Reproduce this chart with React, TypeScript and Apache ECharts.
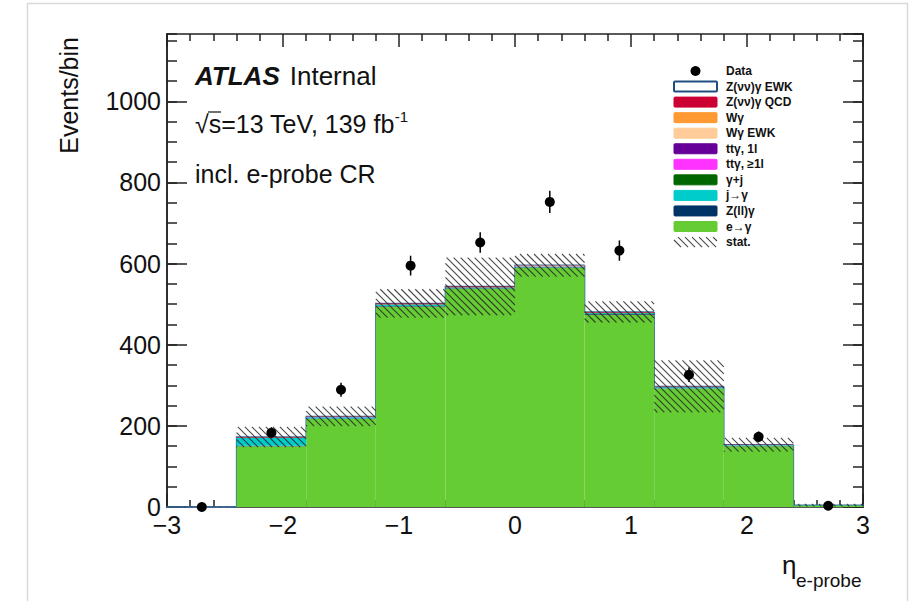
import React, { useEffect, useRef } from "react";
import * as echarts from "echarts";

// ---------- data ----------
const binEdges = [-3, -2.4, -1.8, -1.2, -0.6, 0, 0.6, 1.2, 1.8, 2.4, 3];

// stack order: bottom -> top
const eToGamma = [0.3, 150, 217, 494, 538, 590, 474, 292, 150, 4];
const zllGamma = [0, 1.0, 1.0, 1.5, 1.0, 1.0, 1.5, 1.0, 0.5, 0];
const jToGamma = [0, 19, 3, 3, 1.5, 1.5, 2, 2, 1.5, 0.5];
const gammaJet = [0, 0.5, 0.4, 0.5, 0.4, 0.4, 0.5, 0.3, 0.2, 0];
const ttGammaGe1l = [0, 0.2, 0.2, 0.3, 0.3, 0.3, 0.3, 0.2, 0.1, 0];
const ttGamma1l = [0, 0.3, 0.3, 0.4, 0.4, 0.4, 0.4, 0.3, 0.2, 0];
const wGammaEWK = [0, 0.1, 0.1, 0.2, 0.2, 0.2, 0.2, 0.1, 0.1, 0];
const wGamma = [0, 0.5, 0.5, 0.8, 0.8, 0.8, 0.8, 0.5, 0.3, 0];
const zvvQCD = [0, 0.8, 0.8, 1.0, 1.0, 1.0, 1.0, 0.8, 0.4, 0];
const zvvEWK = [0, 0.1, 0.1, 0.1, 0.1, 0.1, 0.1, 0.1, 0.1, 0];

const statErr = [0.5, 25, 24, 35, 71, 28, 26, 64, 17, 3];
const dataCounts = [0, 183, 289, 595, 652, 752, 632, 326, 173, 3];

const xTicksMajor = 1;
const yMax = 1166;

const legendLabels = [
  "Data",
  "Z(νν)γ EWK",
  "Z(νν)γ QCD",
  "Wγ",
  "Wγ EWK",
  "ttγ, 1l",
  "ttγ, ≥1l",
  "γ+j",
  "j→γ",
  "Z(ll)γ",
  "e→γ",
  "stat.",
];

// ---------- style ----------
const FONT = "'Liberation Sans', Arial, Helvetica, sans-serif";
const INK = "#111";
const FRAME = "#222";

const components = [
  { name: "e→γ", values: eToGamma, color: "#66cc33" },
  { name: "Z(ll)γ", values: zllGamma, color: "#003366" },
  { name: "j→γ", values: jToGamma, color: "#00cccc" },
  { name: "γ+j", values: gammaJet, color: "#006600" },
  { name: "ttγ, ≥1l", values: ttGammaGe1l, color: "#ff33ff" },
  { name: "ttγ, 1l", values: ttGamma1l, color: "#660099" },
  { name: "Wγ EWK", values: wGammaEWK, color: "#ffcc99" },
  { name: "Wγ", values: wGamma, color: "#ff9933" },
  { name: "Z(νν)γ QCD", values: zvvQCD, color: "#cc0033" },
  { name: "Z(νν)γ EWK", values: zvvEWK, color: "#ffffff" },
];

const legendColors: Record<string, string> = {};
components.forEach((c) => (legendColors[c.name] = c.color));

function hatchLines(xa: number, ya: number, xb: number, yb: number, s: number) {
  const out: any[] = [];
  // lines y = x + c  (down-right, "\\")
  const cMin = Math.floor((ya - xb) / s) * s;
  const cMax = yb - xa;
  for (let c = cMin; c <= cMax; c += s) {
    const xs = Math.max(xa, ya - c);
    const xe = Math.min(xb, yb - c);
    if (xe > xs) out.push([xs, xs + c, xe, xe + c]);
  }
  return out;
}

export default function App() {
  const ref = useRef<HTMLDivElement>(null);

  useEffect(() => {
    if (!ref.current) return;
    const chart = echarts.init(ref.current, undefined, { renderer: "svg" });

    const nBins = binEdges.length - 1;
    const totals: number[] = [];
    for (let i = 0; i < nBins; i++) {
      totals.push(components.reduce((s, c) => s + c.values[i], 0));
    }

    const series: any[] = [];

    // outline of full stack (ROOT draws top-most histogram with a blue line)
    series.push({
      type: "custom",
      z: 1,
      silent: true,
      data: totals.map((t, i) => [binEdges[i], binEdges[i + 1], i > 0 ? totals[i - 1] : 0, t, i === nBins - 1 ? 1 : 0]),
      renderItem: (params: any, api: any) => {
        const a = api.coord([api.value(0), api.value(2)]);
        const b = api.coord([api.value(0), api.value(3)]);
        const c = api.coord([api.value(1), api.value(3)]);
        const pts = [a, b, c];
        if (api.value(4) === 1) pts.push(api.coord([api.value(1), 0]));
        return {
          type: "polyline",
          shape: { points: pts },
          style: { stroke: "#3a6ea5", lineWidth: 1.5, fill: null },
        };
      },
    });

    let base = new Array(nBins).fill(0);
    components.forEach((comp, k) => {
      const b0 = base.slice();
      series.push({
        type: "custom",
        name: comp.name,
        z: 2 + k,
        silent: true,
        data: comp.values.map((v, i) => [binEdges[i], binEdges[i + 1], b0[i], b0[i] + v]),
        renderItem: (params: any, api: any) => {
          const p0 = api.coord([api.value(0), api.value(3)]);
          const p1 = api.coord([api.value(1), api.value(2)]);
          return {
            type: "rect",
            shape: { x: p0[0], y: p0[1], width: p1[0] - p0[0], height: p1[1] - p0[1] },
            style: { fill: comp.color },
          };
        },
      });
      base = base.map((b, i) => b + comp.values[i]);
    });

    // stat band hatch
    series.push({
      type: "custom",
      z: 20,
      silent: true,
      data: totals.map((t, i) => [binEdges[i], binEdges[i + 1], Math.max(0, t - statErr[i]), t + statErr[i]]),
      renderItem: (params: any, api: any) => {
        const p0 = api.coord([api.value(0), api.value(3)]);
        const p1 = api.coord([api.value(1), api.value(2)]);
        const segs = hatchLines(p0[0], p0[1], p1[0], p1[1], 7);
        return {
          type: "group",
          children: segs.map((s) => ({
            type: "line",
            shape: { x1: s[0], y1: s[1], x2: s[2], y2: s[3] },
            style: { stroke: "rgba(40,40,40,0.85)", lineWidth: 1.1 },
          })),
        };
      },
    });

    // data points with error bars
    series.push({
      type: "custom",
      z: 30,
      silent: true,
      data: dataCounts.map((d, i) => [(binEdges[i] + binEdges[i + 1]) / 2, d, Math.sqrt(d)]),
      renderItem: (params: any, api: any) => {
        const x = api.value(0);
        const y = api.value(1);
        const e = api.value(2);
        const c = api.coord([x, y]);
        const lo = api.coord([x, Math.max(0, y - e)]);
        const hi = api.coord([x, y + e]);
        return {
          type: "group",
          children: [
            { type: "line", shape: { x1: c[0], y1: hi[1], x2: c[0], y2: lo[1] }, style: { stroke: "#000", lineWidth: 1.5 } },
            { type: "circle", shape: { cx: c[0], cy: c[1], r: 5 }, style: { fill: "#000" } },
          ],
        };
      },
    });

    const tickStyle = { color: FRAME, width: 1.5 };
    const labelStyle = { fontSize: 25, color: INK, fontFamily: FONT, lineHeight: 18 };

    const xAxisBase = (pos: "bottom" | "top") => ({
      type: "value",
      position: pos,
      min: binEdges[0],
      max: binEdges[binEdges.length - 1],
      interval: xTicksMajor,
      axisLine: { show: true, onZero: false, lineStyle: tickStyle },
      axisTick: { show: true, inside: true, length: 13, lineStyle: tickStyle },
      minorTick: { show: true, splitNumber: 5, length: 7, lineStyle: tickStyle },
      splitLine: { show: false },
      axisLabel:
        pos === "bottom"
          ? { ...labelStyle, margin: 9, formatter: (v: number) => String(v).replace("-", "\u2212") }
          : { show: false },
    });

    const yAxisBase = (pos: "left" | "right", major: boolean) => ({
      type: "value",
      position: pos,
      offset: 0,
      min: 0,
      max: yMax,
      interval: major ? 200 : 50,
      axisLine: { show: true, onZero: false, lineStyle: tickStyle },
      axisTick: { show: true, inside: true, length: major ? 20 : 10, lineStyle: tickStyle },
      splitLine: { show: false },
      axisLabel:
        pos === "left" && major
          ? { ...labelStyle, margin: 6, showMaxLabel: false, formatter: (v: number) => String(v) }
          : { show: false },
    });

    // legend graphics
    const lgX = 674;
    const lgW = 43;
    const lgH = 10;
    const lgTextX = 726;
    const rowY = (i: number) => 71 + i * 15.55;
    const legendEls: any[] = [];
    legendLabels.forEach((lab, i) => {
      const cy = rowY(i);
      if (lab === "Data") {
        legendEls.push({ type: "circle", shape: { cx: lgX + lgW / 2, cy, r: 5 }, style: { fill: "#000" } });
      } else if (lab === "stat.") {
        hatchLines(lgX, cy - 5, lgX + lgW, cy + 5, 7).forEach((s) =>
          legendEls.push({
            type: "line",
            shape: { x1: s[0], y1: s[1], x2: s[2], y2: s[3] },
            style: { stroke: "rgba(40,40,40,0.85)", lineWidth: 1.1 },
          })
        );
      } else {
        const col = legendColors[lab];
        const isEWK = lab === "Z(νν)γ EWK";
        legendEls.push({
          type: "rect",
          shape: { x: lgX, y: cy - lgH / 2, width: lgW, height: lgH, r: 1 },
          style: { fill: col, stroke: isEWK ? "#1f4f80" : col, lineWidth: isEWK ? 2 : 1 },
        });
      }
      legendEls.push({
        type: "text",
        x: lgTextX,
        y: cy,
        style: { text: lab, fontFamily: FONT, fontWeight: "bold", fontSize: 12, fill: INK, verticalAlign: "middle", align: "left" },
      });
    });

    const graphics: any[] = [
      {
        type: "rect",
        shape: { x: 27.5, y: 3.5, width: 880, height: 700 },
        style: { fill: null, stroke: "#d9d9d9", lineWidth: 1.5 },
        silent: true,
      },
      {
        type: "text",
        x: 195,
        y: 76,
        style: {
          text: "{b|ATLAS}{g| }{n|Internal}",
          verticalAlign: "middle",
          rich: {
            b: { fontFamily: FONT, fontSize: 26, fontWeight: "bold", fontStyle: "italic", fill: INK },
            g: { fontFamily: FONT, fontSize: 26, width: 10 },
            n: { fontFamily: FONT, fontSize: 26, fill: INK },
          },
        },
      },
      {
        type: "text",
        x: 195,
        y: 124,
        style: {
          text: "{n|√s=13 TeV, 139 fb}{s|-1}",
          verticalAlign: "middle",
          rich: {
            n: { fontFamily: FONT, fontSize: 25, fill: INK, lineHeight: 30 },
            s: { fontFamily: FONT, fontSize: 15, fill: INK, lineHeight: 15, verticalAlign: "top" },
          },
        },
      },
      {
        type: "line",
        shape: { x1: 208, y1: 112, x2: 221, y2: 112 },
        style: { stroke: INK, lineWidth: 1.2 },
      },
      {
        type: "text",
        x: 195,
        y: 174,
        style: { text: "incl. e-probe CR", fontFamily: FONT, fontSize: 25, fill: INK, verticalAlign: "middle" },
      },
      {
        type: "text",
        x: 69,
        y: 37,
        rotation: Math.PI / 2,
        style: { text: "Events/bin", fontFamily: FONT, fontSize: 25, fill: INK, align: "right", verticalAlign: "middle" },
      },
      {
        type: "text",
        x: 782,
        y: 565,
        style: { text: "η", fontFamily: FONT, fontSize: 26, fill: INK, align: "left", verticalAlign: "middle" },
      },
      {
        type: "text",
        x: 796,
        y: 580,
        style: { text: "e-probe", fontFamily: FONT, fontSize: 19, fill: INK, align: "left", verticalAlign: "middle" },
      },
      ...legendEls,
    ];

    chart.setOption({
      animation: false,
      backgroundColor: "#fff",
      grid: { left: 167, right: 47, top: 34, bottom: 94, containLabel: false },
      xAxis: [xAxisBase("bottom"), xAxisBase("top")],
      yAxis: [yAxisBase("left", true), yAxisBase("left", false), yAxisBase("right", true), yAxisBase("right", false)],
      series,
      graphic: graphics,
    });

    return () => chart.dispose();
  }, []);

  return (
    <div
      ref={ref}
      style={{ position: "absolute", left: 0, top: 0, width: 910, height: 601, background: "#fff" }}
    />
  );
}
